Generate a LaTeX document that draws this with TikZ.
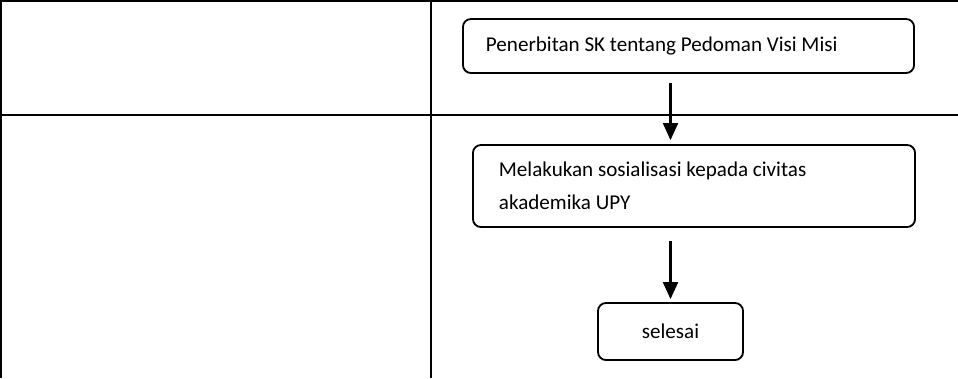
\documentclass[tikz,border=0pt]{standalone}
\usepackage{fontspec}
\setmainfont{Carlito}
\usetikzlibrary{arrows.meta}

\begin{document}
\begin{tikzpicture}[x=0.025cm, y=-0.025cm,
    box/.style={draw, rectangle, rounded corners=0.2cm, line width=1.3pt, font=\fontsize{15}{23.5}\selectfont},
    arr/.style={line width=1.5pt, -{Triangle[width=0.375cm,length=0.425cm]}}]
    \useasboundingbox (0,0) rectangle (958,378);

    % tabel
    \draw[line width=1.9pt] (0,1) -- (958,1);
    \draw[line width=1.9pt] (1,0) -- (1,378);
    \draw[line width=1.9pt] (431,0) -- (431,378);
    \draw[line width=1.9pt] (0,115) -- (958,115);

    \node[box, minimum width=11.275cm, minimum height=1.35cm, inner xsep=0.575cm, text width=10.125cm, align=flush left] (terbit) at (688.5,46) {Penerbitan SK tentang Pedoman Visi Misi};
    \node[box, minimum width=11.05cm, minimum height=2.05cm, inner xsep=0.65cm, text width=9.75cm, align=flush left] (sosialisasi) at (694,186) {Melakukan sosialisasi kepada civitas\\akademika UPY};
    \node[box, minimum width=3.625cm, minimum height=1.425cm] (selesai) at (670.5,331.5) {selesai};

    \draw[arr, shorten <=0.225cm, shorten >=0.1cm] (terbit.south -| selesai.north) -- (sosialisasi.north -| selesai.north);
    \draw[arr, shorten <=0.325cm, shorten >=0.075cm] (sosialisasi.south -| selesai.north) -- (selesai.north);
\end{tikzpicture}
\end{document}
